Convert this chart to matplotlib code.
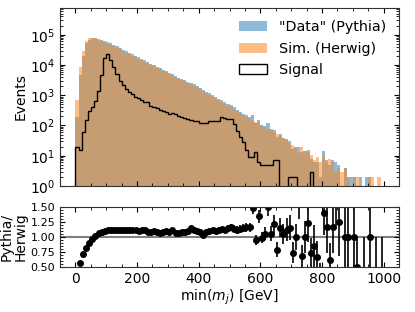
import matplotlib
matplotlib.use('Agg')
import matplotlib.pyplot as plt
import numpy as np
from matplotlib.ticker import AutoMinorLocator, MultipleLocator, FormatStrFormatter

# 10 GeV bins from 0 to 1000 GeV
bin_edges = np.arange(0, 1001, 10)

# "Data" (Pythia) counts per bin
data_counts = [
    195, 4760, 20300, 51700, 68400, 75800, 77500, 72100, 65900, 61600,
    56600, 52600, 46700, 41600, 36300, 32300, 28800, 25400, 22850, 20200,
    17800, 16200, 14300, 12500, 11050, 10030, 8780, 7750, 7040, 6325,
    5590, 5070, 4355, 3850, 3530, 3140, 2830, 2630, 2265, 2000,
    1710, 1435, 1295, 1155, 1012, 873, 775, 681, 588, 526,
    466, 396, 330, 284, 246, 222, 197, 223, 125, 157,
    104, 96, 118, 75, 73, 41, 52, 40, 36, 30,
    17, 20, 20, 13, 14, 16, 8, 6, 6, 2,
    14, 7, 5, 7, 6, 5, 0, 4, 2, 2,
    2, 1, 2, 0, 2, 2, 0, 0, 0, 0,
]

# Sim. (Herwig) counts per bin
sim_counts = [
    710, 8300, 28000, 63000, 76000, 79000, 76000, 68000, 61000, 56000,
    51000, 47000, 41700, 37150, 32700, 28840, 25700, 22900, 20400, 18200,
    16200, 14450, 12900, 11500, 10230, 9120, 8130, 7240, 6460, 5750,
    5130, 4570, 4070, 3630, 3240, 2880, 2570, 2290, 2040, 1820,
    1585, 1380, 1200, 1050, 912, 794, 692, 603, 525, 457,
    398, 347, 295, 251, 214, 191, 170, 151, 132, 117,
    105, 91, 79, 71, 60, 52, 45, 38, 32, 26,
    23, 20, 12, 19, 14, 13, 11, 7, 9, 6,
    10, 6, 8, 6, 3, 4, 3, 4, 2, 0,
    2, 2, 0, 1, 0, 2, 2, 1, 2, 1,
]

# Signal counts per bin
signal_counts = [
    19, 15, 63, 155, 295, 420, 660, 1350, 4500, 17000,
    23000, 14500, 8300, 5000, 3000, 2200, 1600, 1300, 1100, 900,
    790, 700, 620, 590, 455, 420, 380, 325, 310, 270,
    245, 250, 240, 213, 187, 173, 161, 152, 140, 138,
    122, 122, 122, 138, 145, 145, 145, 187, 180, 168,
    165, 113, 68, 41, 28, 15, 9, 9, 13, 6,
    5, 5, 5, 5, 7, 7, 0, 0, 0, 2,
    2, 2, 0, 0, 0, 0, 3, 0, 0, 0,
    0, 0, 0, 0, 0, 0, 0, 0, 0, 0,
    0, 0, 0, 0, 0, 0, 0, 0, 0, 0,
]

data = np.array(data_counts, dtype=float)
sim = np.array(sim_counts, dtype=float)
signal = np.array(signal_counts, dtype=float)
centers = 0.5 * (bin_edges[1:] + bin_edges[:-1])

plt.rcParams['font.size'] = 10
plt.rcParams['xtick.direction'] = 'in'
plt.rcParams['ytick.direction'] = 'in'
plt.rcParams['xtick.top'] = True
plt.rcParams['ytick.right'] = True
plt.rcParams['axes.edgecolor'] = '#333333'

fig = plt.figure(figsize=(4.15, 3.12), dpi=100)
ax1 = fig.add_axes([0.1446, 0.4038, 0.8169, 0.572])
ax2 = fig.add_axes([0.1446, 0.1442, 0.8169, 0.1923], sharex=ax1)

ax1.hist(centers, bins=bin_edges, weights=data, color='#1f77b4', alpha=0.5,
         label='"Data" (Pythia)')
ax1.hist(centers, bins=bin_edges, weights=sim, color='#ff7f0e', alpha=0.5,
         label='Sim. (Herwig)')
ax1.hist(centers, bins=bin_edges, weights=signal, histtype='step', color='k',
         linewidth=1.0, label='Signal')
ax1.set_yscale('log')
ax1.set_ylim(1, 10 * max(data.max(), sim.max()))
ax1.set_xlim(-50, 1050)
ax1.set_ylabel('Events')
ax1.legend(loc='upper right', frameon=False, fontsize=10.3)
ax1.tick_params(labelbottom=False)
ax1.xaxis.set_minor_locator(MultipleLocator(50))

# ratio panel
ok = sim > 0
ratio = data[ok] / sim[ok]
err = np.sqrt(np.maximum(data[ok], 1)) / sim[ok]
ax2.axhline(1, color='gray', linewidth=1.5, zorder=0)
ax2.errorbar(centers[ok], ratio, yerr=err, fmt='o', color='k', ms=4,
             elinewidth=1.2, capsize=0)
ax2.set_ylim(0.5, 1.5)
ax2.set_yticks([0.5, 0.75, 1.0, 1.25, 1.5])
ax2.yaxis.set_major_formatter(FormatStrFormatter('%.2f'))
ax2.yaxis.set_minor_locator(AutoMinorLocator(5))
ax2.tick_params(axis='y', labelsize=8)
ax2.set_ylabel('Pythia/\nHerwig', linespacing=1.0)
ax2.set_xlabel('min($m_j$) [GeV]', labelpad=1)
ax2.set_xticks([0, 200, 400, 600, 800, 1000])

ax1.yaxis.set_label_coords(-0.095, 0.5)
ax2.yaxis.set_label_coords(-0.095, 0.5)
fig.savefig('out.png', dpi=100)
